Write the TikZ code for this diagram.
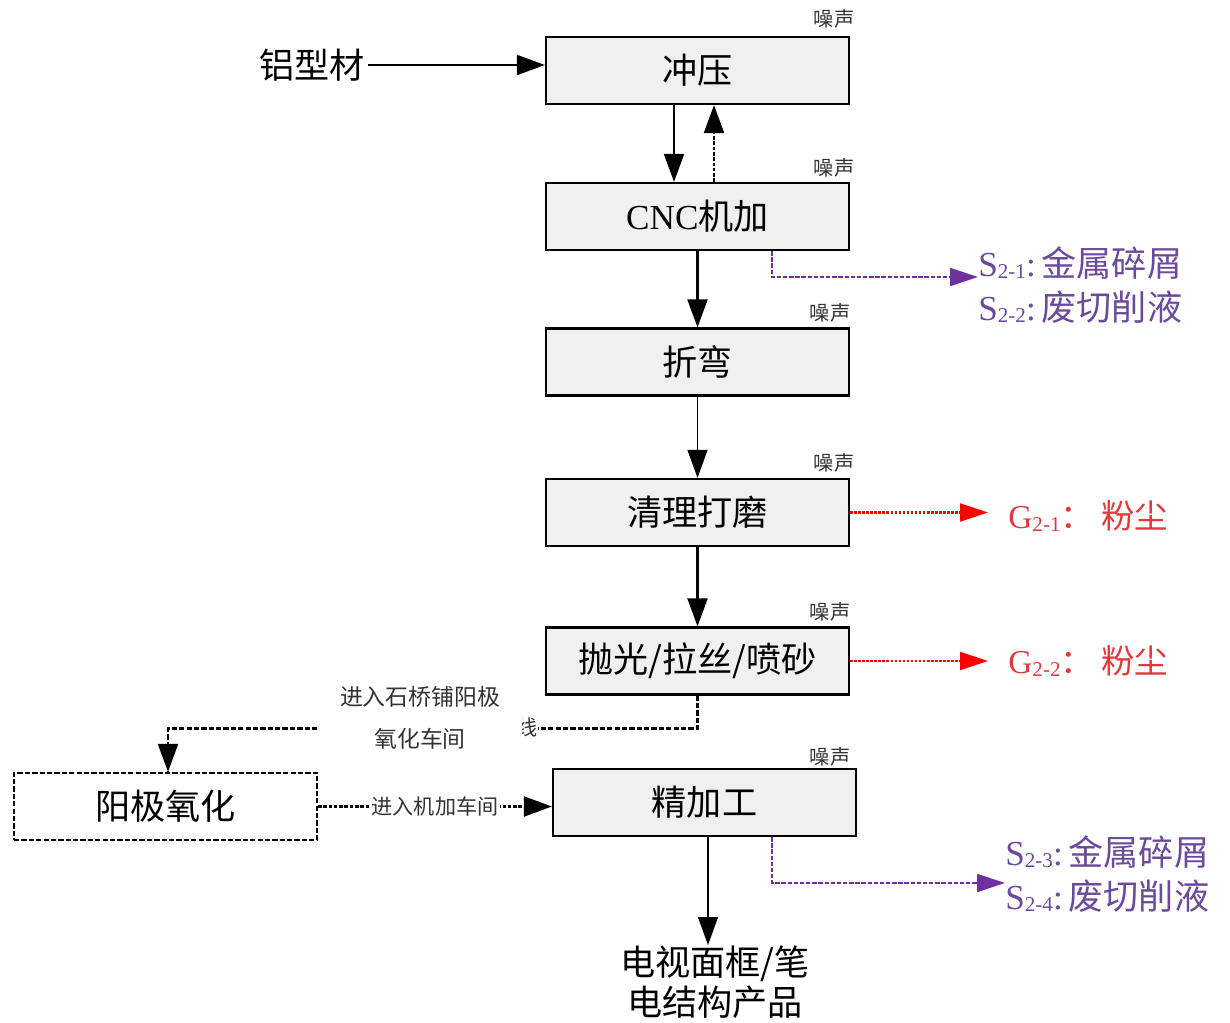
\documentclass[tikz,border=0pt]{standalone}
\usepackage{fontspec}
\setmainfont{Liberation Serif}
\newfontfamily\cjk{Noto Sans CJK SC}
\usetikzlibrary{arrows.meta}
\definecolor{boxfill}{HTML}{F0F0F0}
\definecolor{purp}{HTML}{7030A0}
\definecolor{txtpurp}{HTML}{6B4A9A}
\definecolor{redc}{HTML}{FF0000}
\definecolor{txtred}{HTML}{E0393E}
\definecolor{noisec}{HTML}{333333}
\newcommand{\sbs}[1]{{\fontsize{12}{12}\selectfont\raisebox{-0.12em}{#1}}}
\tikzset{
  stepbox/.style={draw, line width=1.3pt, fill=boxfill, minimum width=6.06cm, minimum height=1.34cm, inner sep=0pt, font=\fontsize{20}{24}\selectfont\cjk},
  dashbox/.style={draw, line width=1.3pt, dash pattern=on 3pt off 1.2pt, fill=white, minimum width=6.06cm, minimum height=1.34cm, inner sep=0pt, font=\fontsize{20}{24}\selectfont\cjk},
  noise/.style={font=\fontsize{11.5}{12}\selectfont\cjk, text=noisec, inner sep=0pt},
  arr/.style={line width=1.3pt, -{Triangle[length=0.56cm, width=0.4cm]}},
  thinarr/.style={line width=0.7pt, -{Triangle[length=0.56cm, width=0.4cm]}},
  dotarr/.style={line width=1.3pt, dash pattern=on 2pt off 1pt, -{Triangle[length=0.56cm, width=0.4cm]}},
  dashline/.style={line width=1.3pt, dash pattern=on 3pt off 1.2pt},
  parr/.style={line width=1.2pt, purp, dash pattern=on 2.5pt off 1pt, -{Triangle[length=0.56cm, width=0.36cm]}},
  rarr/.style={line width=1.2pt, redc, dash pattern=on 1.5pt off 0.8pt, -{Triangle[length=0.56cm, width=0.36cm]}},
  slabel/.style={anchor=west, align=left, text=txtpurp, font=\fontsize{20}{25}\selectfont, inner sep=0pt},
  glabel/.style={anchor=west, text=txtred, font=\fontsize{19}{24}\selectfont, inner sep=0pt},
}
\begin{document}
\begin{tikzpicture}[x=0.02cm, y=-0.02cm]
\useasboundingbox (0,0) rectangle (1230,1023);

% process boxes
\node[stepbox] (a) at (697.5,70.5) {冲压};
\node[stepbox] (b) at (697.5,216.5) {{\rmfamily CNC}机加};
\node[stepbox] (c) at (697.5,362) {折弯};
\node[stepbox] (d) at (697.5,512.5) {清理打磨};
\node[stepbox] (e) at (697.5,661) {抛光/拉丝/喷砂};
\node[stepbox] (f) at (704.5,802.5) {精加工};
\node[dashbox] (g) at (165.5,806.5) {阳极氧化};

% noise labels
\node[noise] (n1) at (834,19) {噪声};
\node[noise] (n2) at (834,168) {噪声};
\node[noise] (n3) at (830,313) {噪声};
\node[noise] (n4) at (834,463) {噪声};
\node[noise] (n5) at (830,612) {噪声};
\node[noise] (n6) at (830,757) {噪声};

% raw material
\node[font=\fontsize{20}{24}\selectfont\cjk, inner sep=0pt] (raw) at (312,65) {铝型材};
\draw[arr] (raw.east) ++(0.06cm,0) coordinate (rawe) -- (rawe -| a.west);

% main flow
\draw[arr] ([xshift=-0.47cm]a.south) -- ([xshift=-0.47cm]b.north);
\draw[dotarr] ([xshift=0.33cm]b.north) -- ([xshift=0.33cm]a.south);
\draw[arr] (b.south) -- (c.north);
\draw[thinarr] (c.south) -- (d.north);
\draw[arr] (d.south) -- (e.north);

% outputs
\node[slabel] (s1) at (978,285) {S\sbs{2-1}:\,{\cjk 金属碎屑}\\S\sbs{2-2}:\,{\cjk 废切削液}};
\draw[parr] ([xshift=1.49cm]b.south) |- ([yshift=0.16cm]s1.west);
\node[glabel] (g1) at (1008,516) {G\sbs{2-1}{\cjk ：\ 粉尘}};
\draw[rarr] (d.east) -- ([xshift=-0.4cm]d.east -| g1.west);
\node[glabel] (g2) at (1008,661) {G\sbs{2-2}{\cjk ：\ 粉尘}};
\draw[rarr] (e.east) -- ([xshift=-0.4cm]e.east -| g2.west);
\node[slabel] (s3) at (1005,874) {S\sbs{2-3}:\,{\cjk 金属碎屑}\\S\sbs{2-4}:\,{\cjk 废切削液}};
\draw[parr] ([xshift=1.35cm]f.south) |- ([yshift=-0.18cm]s3.west);

% anodizing route
\draw[dashline] (e.south) -- ++(0,33) coordinate (turn) -| ([xshift=0.05cm]g.north) coordinate (gin);
\draw[line width=1.3pt, -{Triangle[length=0.56cm, width=0.4cm]}] ([yshift=0.6cm]gin) -- (gin);
\node[fill=white, font=\fontsize{12}{12}\selectfont\cjk, text=noisec, inner sep=0.5pt] (frag) at (527,727) {线};
\node[fill=white, inner sep=0pt, minimum width=4.08cm, minimum height=1.7cm, align=center, text=noisec, font=\fontsize{13}{24}\selectfont\cjk] (lab) at (420,718) {进入石桥铺阳极\\氧化车间};

\draw[dotarr] (g.east) -- (g.east -| f.west) node[midway, fill=white, inner sep=1pt, text=noisec, font=\fontsize{12}{14}\selectfont\cjk] (lab2) {进入机加车间};

% product
\node[align=center, inner sep=0pt, font=\fontsize{20}{23}\selectfont\cjk] (prod) at (715,982) {电视面框/笔\\电结构产品};
\draw[thinarr] ([xshift=0.07cm]f.south) -- ([xshift=0.07cm]f.south |- prod.north);
\end{tikzpicture}
\end{document}
